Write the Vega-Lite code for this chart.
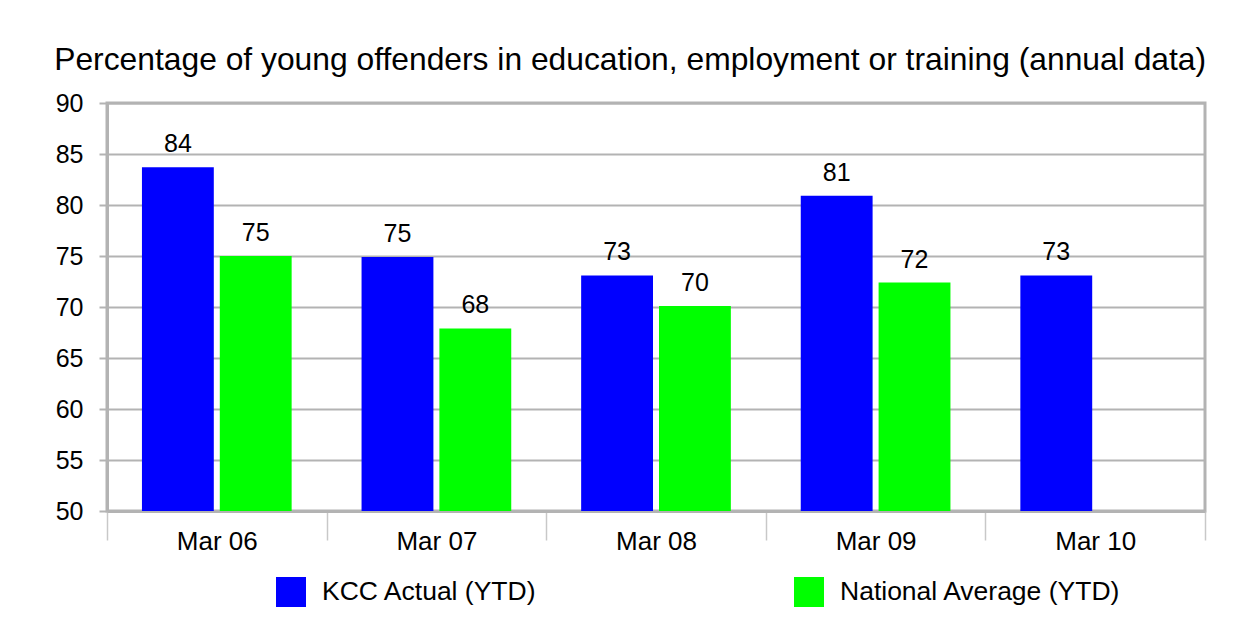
{
  "$schema": "https://vega.github.io/schema/vega-lite/v6.json",
  "width": 1098,
  "height": 408,
  "autosize": {"type": "none"},
  "padding": {"left": 107, "top": 103, "right": 42, "bottom": 107},
  "background": "white",
  "title": {
    "text": "Percentage of young offenders in education, employment or training (annual data)",
    "anchor": "start",
    "frame": "bounds",
    "fontSize": 31.8,
    "font": "Liberation Sans",
    "fontWeight": "normal",
    "color": "black",
    "offset": 14,
    "dx": -1
  },
  "data": {
    "values": [
      {"period": "Mar 06", "series": "KCC Actual (YTD)", "value": 83.7},
      {"period": "Mar 06", "series": "National Average (YTD)", "value": 75.0},
      {"period": "Mar 07", "series": "KCC Actual (YTD)", "value": 74.9},
      {"period": "Mar 07", "series": "National Average (YTD)", "value": 67.9},
      {"period": "Mar 08", "series": "KCC Actual (YTD)", "value": 73.1},
      {"period": "Mar 08", "series": "National Average (YTD)", "value": 70.1},
      {"period": "Mar 09", "series": "KCC Actual (YTD)", "value": 80.9},
      {"period": "Mar 09", "series": "National Average (YTD)", "value": 72.4},
      {"period": "Mar 10", "series": "KCC Actual (YTD)", "value": 73.1}
    ]
  },
  "encoding": {
    "x": {
      "field": "period",
      "type": "nominal",
      "sort": null,
      "scale": {"paddingInner": 0, "paddingOuter": 0},
      "axis": {
        "title": null,
        "labelAngle": 0,
        "labelFont": "Liberation Sans",
        "labelFontSize": 26,
        "labelColor": "black",
        "tickBand": "extent",
        "tickSize": 29,
        "tickColor": "#c8c8c8",
        "tickWidth": 1.5,
        "labelPadding": -12,
        "domainColor": "#b3b3b3",
        "domainWidth": 3,
        "grid": false
      }
    },
    "xOffset": {
      "field": "series",
      "type": "nominal",
      "scale": {"paddingInner": 0.077, "paddingOuter": 0.449}
    },
    "y": {
      "field": "value",
      "type": "quantitative",
      "scale": {"domain": [50, 90], "nice": false, "zero": false},
      "axis": {
        "title": null,
        "values": [50, 55, 60, 65, 70, 75, 80, 85, 90],
        "labelFont": "Liberation Sans",
        "labelFontSize": 25,
        "labelColor": "black",
        "tickSize": 8,
        "tickColor": "#b3b3b3",
        "tickWidth": 2,
        "labelPadding": 16,
        "domainColor": "#b3b3b3",
        "domainWidth": 3,
        "gridColor": "#b3b3b3",
        "gridWidth": 2
      }
    }
  },
  "layer": [
    {
      "mark": {"type": "bar"},
      "encoding": {
        "y2": {"datum": 50},
        "color": {
          "field": "series",
          "type": "nominal",
          "scale": {"domain": ["KCC Actual (YTD)", "National Average (YTD)"], "range": ["#0000ff", "#00ff00"]},
          "legend": {
            "title": null,
            "orient": "none",
            "legendX": 169,
            "legendY": 474,
            "direction": "horizontal",
            "columns": 2,
            "columnPadding": 257,
            "symbolType": "square",
            "symbolSize": 900,
            "symbolStrokeWidth": 0,
            "symbolOpacity": 1,
            "labelFont": "Liberation Sans",
            "labelFontSize": 26.5,
            "labelColor": "black",
            "labelOffset": 16,
            "labelLimit": 400,
            "padding": 0
          }
        }
      }
    },
    {
      "mark": {"type": "text", "dy": -15, "baseline": "alphabetic", "font": "Liberation Sans", "fontSize": 25, "color": "black"},
      "encoding": {
        "text": {"field": "value", "type": "quantitative", "format": ".0f"}
      }
    }
  ],
  "config": {
    "view": {"stroke": "#b3b3b3", "strokeWidth": 3}
  }
}
